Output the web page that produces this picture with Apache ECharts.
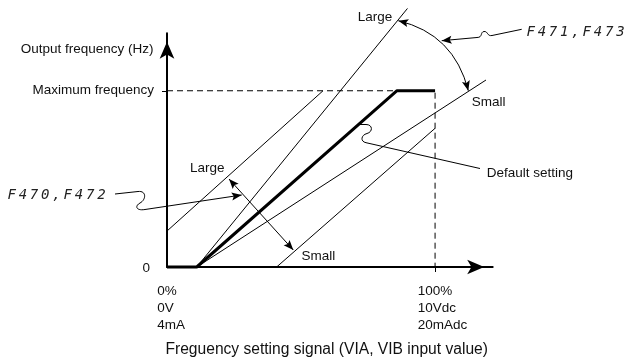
<!DOCTYPE html>
<html>
<head>
<meta charset="utf-8">
<script src="https://cdn.jsdelivr.net/npm/echarts@6/dist/echarts.min.js"></script>
<style>
  html, body { margin: 0; padding: 0; background: #fff; }
  #c { width: 626px; height: 358px; }
</style>
</head>
<body>
<div id="c"></div>
<script>
// Analog input signal (% of full scale) against output frequency (% of maximum frequency)
const defaultSetting = [[0, 0], [11.1, 0], [85.7, 100], [100, 100]];
const gainLarge = [[11.1, 0], [89.7, 146.7]];
const gainSmall = [[11.1, 0], [119.0, 106.1]];
const biasLarge = [[0, 20.4], [58.2, 100]];
const biasSmall = [[40.9, 0], [100, 78.7]];
const maxFreqGuide = [[0, 100], [100, 100], [100, 0]];

const xTickValues = [0, 100];
const xTickLabels = [['0%', '0V', '4mA'], ['100%', '10Vdc', '20mAdc']];
const yTickValues = [0, 100];
const yTickLabels = ['0', 'Maximum frequency'];
const xAxisMax = 121.5;
const yAxisMax = 132.6;

const FONT = "'Liberation Sans', Arial, sans-serif";
const MONO = "'DejaVu Sans Mono', 'Liberation Mono', monospace";
const INK = '#111';
const FS = 13.5;

const chart = echarts.init(document.getElementById('c'), null, { renderer: 'canvas' });

function line(data, width, z, dash) {
  return {
    type: 'line', data: data, symbol: 'none', clip: false, silent: true, z: z,
    lineStyle: { color: '#000', width: width, type: dash || 'solid' }
  };
}

const axisLine = {
  show: true, onZero: false,
  symbol: ['none', 'arrow'], symbolSize: [11, 17], symbolOffset: [0, -8.5],
  lineStyle: { color: '#000', width: 2 }
};

chart.setOption({
  animation: false,
  grid: { left: 167, top: 33.3, right: 133.3, bottom: 91, containLabel: false, outerBoundsMode: 'none' },
  xAxis: {
    type: 'value', min: 0, max: xAxisMax,
    splitLine: { show: false },
    axisLine: axisLine,
    axisTick: { show: true, customValues: [100], length: 5, lineStyle: { color: '#000', width: 1 } },
    axisLabel: { show: false }
  },
  yAxis: {
    type: 'value', min: 0, max: yAxisMax,
    splitLine: { show: false },
    axisLine: axisLine,
    axisTick: { show: true, customValues: [100], length: 5, lineStyle: { color: '#000', width: 1 } },
    axisLabel: {
      show: true, customValues: yTickValues, margin: 13,
      color: INK, fontFamily: FONT, fontSize: FS,
      formatter: function (v) {
        const label = yTickLabels[yTickValues.indexOf(v)];
        return v === 0 ? '{z|' + label + '}' : label;
      },
      rich: { z: { color: INK, fontFamily: FONT, fontSize: FS, padding: [3, 4, 0, 0] } }
    }
  },
  series: [
    line(maxFreqGuide, 1, 1, [6, 4]),
    line(biasLarge, 1, 2),
    line(biasSmall, 1, 2),
    line(gainLarge, 1, 2),
    line(gainSmall, 1, 2),
    line(defaultSetting, 3, 3)
  ]
});

// ---- annotations ----
const measure = document.createElement('canvas').getContext('2d');
measure.font = FS + "px 'Liberation Sans'";

function text(str, x, y, align, opts) {
  return {
    type: 'text', x: x, y: y, silent: true, z: 10,
    style: Object.assign({
      text: str, fill: INK, fontFamily: FONT, fontSize: FS,
      align: align || 'left', verticalAlign: 'middle'
    }, opts || {})
  };
}

// spaced segment-style code label
function codeLabel(str, x, y) {
  const body = str.split('').map(function (ch) { return '{c|' + ch + '}'; }).join('');
  return {
    type: 'text', x: x, y: y, silent: true, z: 10,
    style: {
      text: body, align: 'left', verticalAlign: 'middle',
      rich: { c: { fill: '#222', fontFamily: MONO, fontSize: 14, fontStyle: 'italic', padding: [0, 1.4, 0, 1.4] } }
    }
  };
}

// leader line built from straight (L) and cubic (C) pieces
function leader(start, pieces) {
  const out = [];
  let cur = start;
  const stroke = { stroke: '#000', fill: null, lineWidth: 1 };
  pieces.forEach(function (p) {
    if (p.length === 2) {
      out.push({ type: 'line', silent: true, z: 9, shape: { x1: cur[0], y1: cur[1], x2: p[0], y2: p[1] }, style: stroke });
      cur = p;
    } else {
      out.push({ type: 'bezierCurve', silent: true, z: 9,
        shape: { x1: cur[0], y1: cur[1], cpx1: p[0], cpy1: p[1], cpx2: p[2], cpy2: p[3], x2: p[4], y2: p[5] }, style: stroke });
      cur = [p[4], p[5]];
    }
  });
  return out;
}

function arrowHead(tip, from, len, half, notch) {
  const dx = tip[0] - from[0], dy = tip[1] - from[1];
  const d = Math.hypot(dx, dy);
  const ux = dx / d, uy = dy / d, nx = -uy, ny = ux;
  const bx = tip[0] - ux * len, by = tip[1] - uy * len;
  return {
    type: 'polygon', silent: true, z: 10,
    shape: { points: [tip, [bx + nx * half, by + ny * half], [tip[0] - ux * (len - notch), tip[1] - uy * (len - notch)], [bx - nx * half, by - ny * half]] },
    style: { fill: '#000' }
  };
}

const px = function (p) { return chart.convertToPixel({ gridIndex: 0 }, p); };
let g = [];

// x tick labels: three lines, first line centred on the tick
xTickValues.forEach(function (v, i) {
  const lines = xTickLabels[i];
  const p = px([v, 0]);
  const w0 = measure.measureText(lines[0]).width;
  g.push({
    type: 'text', x: p[0] - w0 / 2, y: p[1] + 15.5, silent: true, z: 10,
    style: { text: lines.join('\n'), fill: INK, fontFamily: FONT, fontSize: FS, align: 'left', verticalAlign: 'top', lineHeight: 17 }
  });
});

// axis titles
g.push(text('Output frequency (Hz)', 153.5, 49.3, 'right'));
g.push(text('Freguency setting signal (VIA, VIB input value)', 326.7, 350, 'center', { fontSize: 15.6 }));

// bias adjustment (F470, F472)
g.push(text('Large', 190, 168.3, 'left'));
g.push(text('Small', 301.5, 256.7, 'left'));
g = g.concat(leader([229, 179], [[293.3, 250]]));
g.push(arrowHead([229, 179], [293.3, 250], 10, 4, 2));
g.push(arrowHead([293.3, 250], [229, 179], 10, 4, 2));
g.push(codeLabel('F470,F472', 6, 195));
g = g.concat(leader([115, 194], [[138, 191.5], [147, 190.5, 146, 200, 140, 203], [134.5, 206, 136, 211, 145, 209.5], [241.7, 195]]));
g.push(arrowHead([241.7, 195], [145, 209.5], 10, 4, 2));

// gain adjustment (F471, F473)
g.push(text('Large', 375, 17.7, 'center'));
g.push(text('Small', 471.7, 102.7, 'left'));
const arcA = [398.3, 20.7], arcB = [468.3, 90.7], arcC = [454, 34];
g.push({ type: 'bezierCurve', silent: true, z: 9, shape: { x1: arcA[0], y1: arcA[1], x2: arcB[0], y2: arcB[1], cpx1: arcC[0], cpy1: arcC[1] }, style: { stroke: '#000', fill: null, lineWidth: 1 } });
g.push(arrowHead(arcA, arcC, 10, 4, 2));
g.push(arrowHead(arcB, arcC, 10, 4, 2));
g.push(codeLabel('F471,F473', 525, 32));
g = g.concat(leader([521.7, 29.3], [[492, 35.5], [487, 36.5, 488, 31, 484, 31.5], [480, 32, 483, 37.5, 477, 37.5], [441.7, 40.7]]));
g.push(arrowHead([441.7, 40.7], [477, 37.5], 10, 4, 2));

// default setting callout
g = g.concat(leader([358.5, 124.5], [[366, 124.5], [373, 124.5, 373, 132, 367, 133.5], [361, 135, 360, 141.5, 366, 142.7], [480, 168.5]]));
g.push(text('Default setting', 486.7, 173, 'left'));

chart.setOption({ graphic: { elements: g } });
</script>
</body>
</html>
